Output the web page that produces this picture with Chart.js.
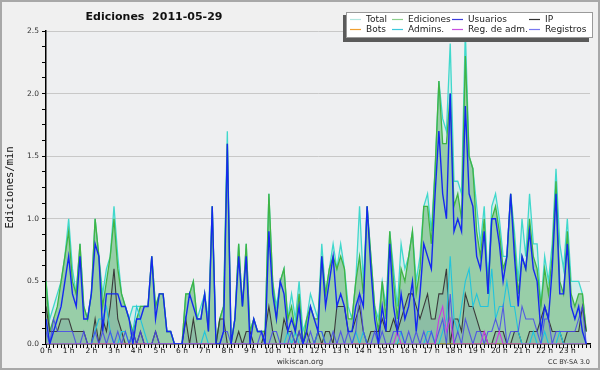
<!DOCTYPE html>
<html>
<head>
<meta charset="utf-8">
<title>Ediciones 2011-05-29</title>
<script src="https://cdn.jsdelivr.net/npm/chart.js@4.4.1/dist/chart.umd.min.js"></script>
<style>
  html, body { margin: 0; padding: 0; background: #f0f0f0; }
  canvas { display: block; }
</style>
</head>
<body>
<canvas id="editsChart" width="600" height="370"></canvas>
<script>
// one value per 10-minute slot, edits per minute
var hourLabels = ["0 h", "1 h", "2 h", "3 h", "4 h", "5 h", "6 h", "7 h", "8 h", "9 h", "10 h", "11 h",
  "12 h", "13 h", "14 h", "15 h", "16 h", "17 h", "18 h", "19 h", "20 h", "21 h", "22 h", "23 h"];

var total = [
  0.5,0.2,0.3,0.4,0.5,0.7,1.0,0.6,0.4,0.8, 0.3,0.2,0.4,1.0,0.7,0.4,0.6,0.7,1.1,0.7,
  0.4,0.3,0.2,0.3,0.3,0.3,0.3,0.3,0.7,0.3, 0.4,0.4,0.1,0.1,0.0,0.0,0.0,0.4,0.4,0.5,
  0.2,0.3,0.4,0.2,1.1,0.0,0.2,0.3,1.7,0.0, 0.2,0.8,0.3,0.8,0.1,0.2,0.1,0.1,0.1,1.2,
  0.5,0.3,0.5,0.6,0.2,0.4,0.2,0.5,0.1,0.2, 0.4,0.3,0.2,0.8,0.4,0.6,0.8,0.6,0.8,0.6,
  0.3,0.2,0.5,1.1,0.5,1.1,0.7,0.3,0.2,0.5, 0.3,0.9,0.6,0.3,0.8,0.6,0.7,0.9,0.5,0.7,
  1.1,1.2,0.9,1.4,2.1,1.8,1.7,2.4,1.3,1.3, 1.2,2.5,1.5,1.4,1.1,0.8,1.1,0.5,1.1,1.2,
  1.0,0.7,0.7,1.2,0.9,0.5,1.0,0.7,1.2,0.8, 0.8,0.3,0.7,0.5,0.8,1.4,0.8,0.6,1.0,0.5,
  0.5,0.5,0.4,0.1
];
var ediciones = [
  0.5,0.1,0.2,0.3,0.5,0.7,0.9,0.5,0.4,0.8, 0.3,0.2,0.4,1.0,0.7,0.3,0.5,0.7,1.0,0.6,
  0.4,0.3,0.2,0.1,0.2,0.3,0.3,0.3,0.7,0.3, 0.4,0.4,0.1,0.1,0.0,0.0,0.0,0.4,0.4,0.5,
  0.2,0.2,0.4,0.1,1.1,0.0,0.2,0.3,1.6,0.0, 0.2,0.8,0.3,0.8,0.1,0.2,0.1,0.1,0.1,1.2,
  0.5,0.2,0.5,0.6,0.2,0.3,0.1,0.4,0.0,0.2, 0.3,0.2,0.2,0.7,0.4,0.6,0.7,0.6,0.7,0.6,
  0.2,0.2,0.5,0.7,0.4,1.1,0.7,0.3,0.1,0.5, 0.2,0.9,0.5,0.2,0.6,0.5,0.7,0.9,0.4,0.6,
  1.1,1.1,0.8,1.4,2.1,1.6,1.6,2.0,1.1,1.2, 1.0,2.3,1.5,1.4,0.9,0.7,1.0,0.4,1.0,1.1,
  0.9,0.6,0.7,1.2,0.8,0.4,0.7,0.6,1.0,0.7, 0.6,0.3,0.6,0.4,0.7,1.3,0.5,0.4,0.9,0.4,
  0.3,0.4,0.4,0.1
];
var usuarios = [
  0.2,0.0,0.1,0.2,0.3,0.5,0.7,0.4,0.3,0.7, 0.2,0.2,0.4,0.8,0.7,0.1,0.4,0.4,0.4,0.4,
  0.3,0.3,0.2,0.0,0.2,0.2,0.3,0.3,0.7,0.2, 0.4,0.4,0.1,0.1,0.0,0.0,0.0,0.2,0.4,0.3,
  0.2,0.2,0.4,0.1,1.1,0.0,0.0,0.1,1.6,0.0, 0.2,0.7,0.3,0.7,0.0,0.2,0.1,0.1,0.0,0.9,
  0.4,0.2,0.5,0.4,0.1,0.2,0.1,0.3,0.0,0.1, 0.3,0.2,0.1,0.7,0.3,0.5,0.7,0.3,0.4,0.3,
  0.1,0.1,0.3,0.4,0.3,1.1,0.6,0.2,0.0,0.3, 0.1,0.8,0.3,0.1,0.4,0.2,0.3,0.5,0.1,0.4,
  0.8,0.7,0.6,1.2,1.7,1.2,1.0,2.0,0.9,1.0, 0.9,1.9,1.2,1.1,0.7,0.6,0.9,0.4,1.0,1.0,
  0.8,0.5,0.7,1.2,0.7,0.3,0.7,0.6,0.9,0.6, 0.5,0.1,0.3,0.2,0.6,1.2,0.4,0.4,0.8,0.3,
  0.2,0.3,0.1,0.0
];
var ip = [
  0.3,0.1,0.1,0.1,0.2,0.2,0.2,0.1,0.1,0.1, 0.1,0.0,0.0,0.2,0.0,0.2,0.1,0.3,0.6,0.2,
  0.1,0.0,0.0,0.1,0.0,0.1,0.0,0.0,0.0,0.1, 0.0,0.0,0.0,0.0,0.0,0.0,0.0,0.2,0.0,0.2,
  0.0,0.0,0.0,0.0,0.0,0.0,0.2,0.2,0.0,0.0, 0.0,0.1,0.0,0.1,0.1,0.0,0.0,0.0,0.1,0.3,
  0.1,0.0,0.0,0.2,0.1,0.1,0.0,0.1,0.0,0.1, 0.0,0.0,0.1,0.0,0.1,0.1,0.0,0.3,0.3,0.3,
  0.1,0.1,0.2,0.3,0.1,0.0,0.1,0.1,0.1,0.2, 0.1,0.1,0.2,0.1,0.2,0.3,0.4,0.4,0.3,0.2,
  0.3,0.4,0.2,0.2,0.4,0.4,0.6,0.0,0.2,0.2, 0.1,0.4,0.3,0.3,0.2,0.1,0.1,0.0,0.0,0.1,
  0.1,0.1,0.0,0.0,0.1,0.1,0.0,0.0,0.1,0.1, 0.1,0.2,0.3,0.2,0.1,0.1,0.1,0.0,0.1,0.1,
  0.1,0.1,0.3,0.1
];
var bots = [
  0,0,0,0,0,0,0,0,0,0, 0,0,0,0,0,0,0,0,0,0, 0,0,0,0,0,0,0,0,0,0, 0,0,0,0,0,0,0,0,0,0,
  0,0,0,0,0,0,0,0,0,0, 0,0,0,0,0,0,0,0,0,0, 0,0,0,0,0,0,0,0,0,0, 0,0,0,0,0,0,0,0,0,0,
  0,0,0,0,0,0,0,0,0,0, 0,0,0,0,0,0,0,0,0,0, 0,0,0,0,0,0,0,0,0,0, 0,0,0,0,0,0,0,0,0,0,
  0,0,0,0,0,0,0,0,0,0, 0,0,0,0,0,0,0,0,0,0, 0,0,0,0
];
var admins = [
  0.0,0.0,0.0,0.0,0.0,0.0,0.0,0.0,0.0,0.0, 0.0,0.0,0.0,0.1,0.2,0.2,0.3,0.1,0.0,0.0,
  0.1,0.1,0.0,0.1,0.3,0.2,0.1,0.0,0.0,0.0, 0.0,0.0,0.0,0.0,0.0,0.0,0.0,0.0,0.0,0.0,
  0.0,0.0,0.1,0.0,0.0,0.0,0.0,0.0,0.0,0.0, 0.0,0.0,0.0,0.0,0.0,0.0,0.0,0.0,0.0,0.0,
  0.0,0.0,0.0,0.0,0.1,0.0,0.1,0.0,0.0,0.0, 0.0,0.0,0.1,0.1,0.0,0.0,0.0,0.0,0.0,0.0,
  0.0,0.0,0.1,0.0,0.1,0.0,0.0,0.0,0.0,0.0, 0.0,0.0,0.0,0.0,0.1,0.0,0.0,0.0,0.0,0.0,
  0.0,0.1,0.1,0.0,0.0,0.1,0.2,0.7,0.2,0.1, 0.3,0.5,0.6,0.3,0.4,0.3,0.3,0.3,0.6,0.2,
  0.3,0.3,0.5,0.3,0.3,0.1,0.0,0.0,0.0,0.1, 0.0,0.0,0.1,0.0,0.0,0.0,0.1,0.0,0.0,0.0,
  0.0,0.0,0.0,0.0
];
var regAdm = [
  0,0,0,0,0,0,0,0,0,0, 0,0,0,0,0,0,0,0,0,0, 0,0,0,0,0,0,0,0,0,0, 0,0,0,0,0,0,0,0,0,0,
  0,0,0,0,0,0,0,0,0,0, 0,0,0,0,0,0,0,0,0,0, 0,0,0,0,0,0,0,0,0,0, 0,0,0,0,0,0,0,0,0,0,
  0,0,0,0,0,0,0,0,0,0, 0,0,0,0.1,0,0,0,0,0,0, 0,0,0,0,0.2,0.3,0.1,0.2,0,0, 0,0,0,0,0,0,0.1,0,0,0,
  0.1,0,0,0,0,0,0,0,0,0, 0,0,0,0,0,0,0,0,0,0, 0,0,0,0
];
var registros = [
  0.1,0.0,0.2,0.1,0.1,0.1,0.1,0.1,0.0,0.0, 0.1,0.0,0.0,0.1,0.0,0.1,0.0,0.1,0.0,0.1,
  0.0,0.1,0.0,0.1,0.0,0.1,0.0,0.0,0.0,0.1, 0.0,0.0,0.0,0.0,0.0,0.0,0.0,0.0,0.0,0.0,
  0.0,0.0,0.0,0.0,0.0,0.0,0.0,0.1,0.1,0.0, 0.0,0.0,0.0,0.0,0.0,0.0,0.0,0.1,0.0,0.0,
  0.1,0.1,0.0,0.0,0.0,0.1,0.0,0.1,0.0,0.0, 0.1,0.0,0.1,0.1,0.0,0.0,0.1,0.0,0.1,0.0,
  0.1,0.0,0.1,0.4,0.1,0.0,0.0,0.1,0.0,0.1, 0.0,0.0,0.1,0.1,0.1,0.0,0.1,0.0,0.1,0.0,
  0.1,0.0,0.1,0.0,0.1,0.2,0.0,0.4,0.0,0.1, 0.0,0.2,0.1,0.0,0.1,0.1,0.0,0.1,0.1,0.2,
  0.1,0.3,0.0,0.1,0.1,0.1,0.3,0.2,0.2,0.2, 0.1,0.0,0.2,0.2,0.0,0.1,0.1,0.1,0.1,0.1,
  0.1,0.2,0.3,0.0
];

// x positions: slot number (0 = 00:00, 143 = 23:50)
var slots = total.map(function (v, i) { return i; });

(function () {
  function series(label, data, color, swatch, order, width, fillColor) {
    return {
      label: label,
      data: data,
      borderColor: color,
      backgroundColor: fillColor || color,
      fill: fillColor ? "origin" : false,
      borderWidth: width,
      pointRadius: 0,
      tension: 0,
      order: order,
      swatch: swatch
    };
  }

  var datasets = [
    series("Total", total, "#40d8cc", "#b2e6e0", 8, 1.3, "rgba(175,232,226,0.45)"),
    series("Ediciones", ediciones, "#40b444", "#8ccf8c", 7, 1.3, "rgba(82,170,88,0.45)"),
    series("Usuarios", usuarios, "#1428f0", "#3b3bdc", 1, 1.4),
    series("IP", ip, "#3a3a3a", "#333333", 6, 1.1, "rgba(60,70,150,0.12)"),
    series("Bots", bots, "#f0a030", "#f0a030", 5, 1),
    series("Admins.", admins, "#22c4dc", "#3cc8dc", 4, 1.1),
    series("Reg. de adm.", regAdm, "#c83ce0", "#c850e0", 2, 1.1),
    series("Registros", registros, "rgba(70,70,235,0.85)", "#7878f0", 3, 1.1)
  ];

  function isMajor(v) { return Math.abs(v * 2 - Math.round(v * 2)) < 1e-6; }

  var frame = {
    id: "wikiFrame",
    beforeDraw: function (chart) {
      var ctx = chart.ctx, a = chart.chartArea;
      ctx.save();
      ctx.fillStyle = "#f0f0f0";
      ctx.fillRect(0, 0, chart.width, chart.height);
      ctx.fillStyle = "#eeeff1";
      ctx.fillRect(a.left, a.top, a.right - a.left, a.bottom - a.top);
      ctx.restore();
    },
    afterDraw: function (chart) {
      var ctx = chart.ctx;
      ctx.save();
      // outer frame
      ctx.strokeStyle = "#a8a8a8";
      ctx.lineWidth = 2;
      ctx.strokeRect(1, 1, chart.width - 2, chart.height - 2);

      // title
      ctx.fillStyle = "#111";
      ctx.font = "bold 11px 'DejaVu Sans'";
      ctx.textAlign = "center";
      ctx.textBaseline = "middle";
      ctx.fillText("Ediciones  2011-05-29", 154, 17);

      // legend box with shadow
      ctx.fillStyle = "#5a5a5a";
      ctx.fillRect(343, 15, 246, 27);
      ctx.fillStyle = "#ffffff";
      ctx.fillRect(346, 12, 247, 26);
      ctx.strokeStyle = "#9a9a9a";
      ctx.lineWidth = 1;
      ctx.strokeRect(346.5, 12.5, 246, 25);

      var textX = [366, 408, 468, 545];
      var rowY = [19, 29];
      ctx.font = "9px 'DejaVu Sans'";
      ctx.textAlign = "left";
      chart.data.datasets.forEach(function (ds, i) {
        var x = textX[i % 4], y = rowY[Math.floor(i / 4)];
        ctx.strokeStyle = ds.swatch;
        ctx.lineWidth = 1.2;
        ctx.beginPath();
        ctx.moveTo(x - 16, y + 0.5);
        ctx.lineTo(x - 5, y + 0.5);
        ctx.stroke();
        ctx.fillStyle = "#222";
        ctx.fillText(ds.label, x, y + 0.5);
      });

      // footer
      ctx.fillStyle = "#333";
      ctx.font = "7.5px 'DejaVu Sans'";
      ctx.textAlign = "center";
      ctx.fillText("wikiscan.org", 300, 362);
      ctx.font = "6.5px 'DejaVu Sans'";
      ctx.textAlign = "right";
      ctx.fillText("CC BY-SA 3.0", 590, 362);
      ctx.restore();
    }
  };

  new Chart(document.getElementById("editsChart").getContext("2d"), {
    type: "line",
    data: { labels: slots, datasets: datasets },
    plugins: [frame],
    options: {
      responsive: false,
      devicePixelRatio: 1,
      animation: false,
      events: [],
      layout: { padding: { top: 31, right: 10, bottom: 0, left: 0 } },
      plugins: {
        legend: { display: false },
        title: { display: false },
        tooltip: { enabled: false }
      },
      scales: {
        x: {
          type: "linear",
          min: 0,
          max: 144,
          z: 1,
          afterFit: function (s) { s.height = 26; },
          border: { color: "#000", width: 1.5 },
          grid: { drawOnChartArea: false, tickLength: 4, tickColor: "#000", color: "#000" },
          ticks: {
            stepSize: 1,
            maxTicksLimit: 200,
            autoSkip: false,
            maxRotation: 0,
            minRotation: 0,
            padding: -1,
            color: "#111",
            font: { family: "DejaVu Sans", size: 7.5 },
            callback: function (v) {
              return v % 6 === 0 && hourLabels[v / 6] ? hourLabels[v / 6] : "";
            }
          }
        },
        y: {
          min: 0,
          max: 2.5,
          afterFit: function (s) { s.width = 46; },
          border: { color: "#000", width: 1.5 },
          grid: {
            tickLength: 4,
            tickColor: "#000",
            color: function (c) {
              return c.tick && isMajor(c.tick.value) && c.tick.value > 0 ? "#c8c8c8" : "rgba(0,0,0,0)";
            }
          },
          ticks: {
            stepSize: 0.125,
            maxTicksLimit: 50,
            autoSkip: false,
            padding: 3,
            color: "#333",
            font: { family: "DejaVu Sans", size: 7.5 },
            callback: function (v) { return isMajor(v) ? v.toFixed(1) : ""; }
          },
          title: {
            display: true,
            text: "Ediciones/min",
            color: "#111",
            font: { family: "DejaVu Sans Mono", size: 10.5 },
            padding: { top: 4, bottom: 0 }
          }
        }
      }
    }
  });
})();
</script>
</body>
</html>
